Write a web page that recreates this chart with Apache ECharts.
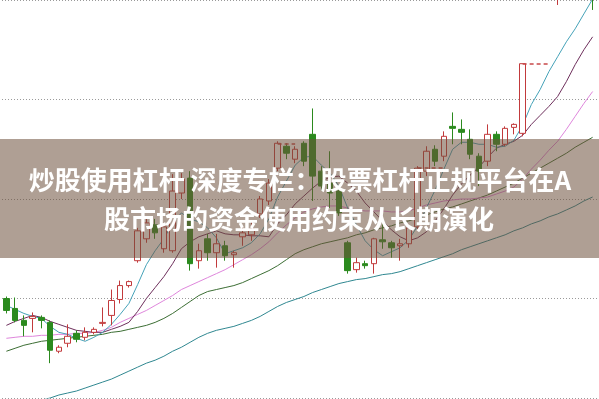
<!DOCTYPE html>
<html>
<head>
<meta charset="utf-8">
<script src="https://cdn.jsdelivr.net/npm/echarts@6/dist/echarts.min.js"></script>
<style>
html, body { margin: 0; padding: 0; background: #fff; }
#kChart { width: 599px; height: 399px; }
</style>
</head>
<body>
<div id="kChart"></div>
<script>
// candles: [open, close, low, high]
var candles = [
	[100, 88, 85, 102], [90, 78, 76, 101], [78, 73, 62, 83], [80, 82, 66, 86], [81, 78, 70, 83],
	[76, 48, 35, 78], [47, 51, 45, 53], [55, 62, 51, 74], [65, 59, 56, 68], [61, 66, 58, 71],
	[66, 69, 64, 71], [75, 76, 72, 91], [83, 98, 73, 109], [99, 113, 95, 118], [113, 117, 111, 118],
	[138, 168, 136, 171], [160, 176, 156, 180], [174, 166, 160, 180], [150, 172, 146, 176], [148, 208, 146, 225],
	[206, 220, 200, 226], [221, 135, 128, 228], [138, 148, 130, 155], [160, 146, 138, 165], [146, 155, 131, 165],
	[153, 143, 138, 158], [144, 146, 131, 148], [162, 166, 153, 173], [164, 170, 158, 178], [185, 200, 181, 203],
	[198, 216, 194, 220], [231, 256, 228, 258], [253, 246, 240, 256], [240, 250, 236, 253], [256, 238, 233, 258],
	[265, 223, 198, 291], [228, 213, 208, 233], [216, 206, 191, 248], [208, 186, 183, 211], [156, 128, 125, 158],
	[129, 136, 126, 141], [135, 133, 130, 138], [135, 160, 125, 161], [159, 157, 150, 175], [156, 151, 141, 158],
	[153, 155, 138, 160], [155, 171, 151, 175], [172, 231, 170, 233], [228, 248, 223, 253], [250, 238, 233, 254],
	[243, 263, 238, 268], [273, 271, 255, 287], [270, 267, 255, 280], [260, 245, 240, 270], [243, 228, 213, 246],
	[238, 265, 233, 275], [265, 255, 248, 268], [255, 271, 253, 273], [272, 275, 265, 276], [266, 336, 263, 336],
	[420, 440, 410, 452], [445, 468, 436, 478], [470, 458, 450, 482], [465, 498, 395, 505], [500, 528, 488, 540],
	[530, 556, 518, 566], [558, 580, 548, 592], [590, 403, 390, 600]
];

var ma5 = [93, 89, 85, 82, 80, 72, 66, 64, 60, 57, 61, 66, 74, 84, 95, 114, 134, 148, 160, 176,
	186, 180, 177, 171, 161, 145, 148, 151, 156, 165, 180, 202, 218, 234, 242, 243, 234, 226, 213, 191,
	174, 158, 149, 143, 147, 151, 159, 173, 191, 209, 230, 250, 257, 257, 255, 255, 252, 253, 259, 274,
	295, 310, 328, 343, 358, 371, 386, 401];

var ma10 = [73, 77, 80, 83, 81, 77, 74, 71, 68, 67, 66, 66, 69, 72, 76, 87, 100, 111, 122, 135,
	150, 157, 162, 165, 168, 165, 164, 164, 163, 163, 162, 175, 184, 195, 203, 211, 218, 222, 223, 216,
	208, 196, 187, 178, 169, 162, 158, 161, 167, 178, 190, 204, 215, 224, 232, 242, 251, 255, 258, 264,
	275, 284, 293, 303, 318, 335, 350, 363];

var ma20 = [60, 61, 62, 62, 63, 63, 64, 64, 65, 65, 66, 68, 71, 76, 80, 84, 88, 93, 98, 103,
	109, 113, 117, 121, 125, 129, 134, 139, 144, 150, 157, 166, 174, 181, 187, 190, 192, 193, 193, 191,
	189, 188, 188, 188, 187, 187, 188, 191, 194, 196, 198, 199, 200, 200, 201, 202, 205, 208, 212, 220,
	230, 239, 249, 258, 270, 283, 296, 308];

var ma60 = [47, 50, 53, 55, 57, 58, 59, 60, 61, 62, 63, 64, 66, 67, 69, 71, 73, 76, 80, 85,
	91, 97, 103, 107, 109, 111, 113, 116, 120, 124, 128, 133, 139, 145, 149, 152, 155, 157, 159, 161,
	164, 166, 169, 171, 173, 176, 178, 181, 184, 187, 190, 192, 195, 198, 201, 204, 208, 212, 216, 221,
	226, 231, 236, 241, 246, 252, 257, 262];

var ma120 = [-14, -10, -7, -4, -2, 0, 3, 5, 7, 10, 13, 16, 19, 23, 27, 31, 35, 38, 42, 47,
	51, 56, 61, 65, 68, 70, 72, 75, 78, 82, 87, 92, 96, 99, 102, 106, 109, 112, 115, 117,
	119, 120, 122, 124, 125, 127, 130, 133, 136, 139, 142, 145, 149, 152, 155, 158, 161, 164, 168, 171,
	175, 178, 182, 185, 189, 193, 198, 202];

// dashed lines from a candle's close over the next few days: [from, to]
var gapLines = [[31, 33], [47, 50], [59, 62]];

var titleLines = ['炒股使用杠杆 深度专栏：股票杠杆正规平台在A', '股市场的资金使用约束从长期演化'];

var days = candles.map(function (c, i) { return 'D' + (i + 1); });

var kChart = echarts.init(document.getElementById('kChart'));

function maSeries(name, data, color) {
	return {
		name: name,
		type: 'line',
		data: data,
		showSymbol: false,
		smooth: false,
		silent: true,
		clip: true,
		lineStyle: { color: color, width: 1 },
		z: 3
	};
}

var option = {
	animation: false,
	backgroundColor: '#ffffff',
	grid: { left: 2, right: 2, top: -2, bottom: 1 },
	xAxis: {
		type: 'category',
		data: days,
		boundaryGap: true,
		axisLine: { show: false },
		axisTick: { show: false },
		axisLabel: { show: false },
		splitLine: { show: false }
	},
	yAxis: {
		type: 'value',
		min: 0,
		max: 400,
		interval: 100,
		axisLine: { show: false },
		axisTick: { show: false },
		axisLabel: { show: false },
		splitLine: {
			show: true,
			lineStyle: { color: '#9a9a9a', width: 1, type: [1, 2] }
		}
	},
	series: [
		maSeries('MA120', ma120, '#2f8790'),
		maSeries('MA60', ma60, '#3c6e34'),
		maSeries('MA20', ma20, '#df86dc'),
		maSeries('MA10', ma10, '#6e2f5c'),
		maSeries('MA5', ma5, '#45a2b8'),
		{
			name: 'K',
			type: 'candlestick',
			data: candles,
			barWidth: 6,
			clip: true,
			z: 4,
			itemStyle: {
				color: '#ffffff',
				color0: '#2b8a1e',
				borderColor: '#c23a3c',
				borderColor0: '#2b8a1e',
				borderWidth: 1
			},
			markLine: {
				silent: true,
				symbol: ['none', 'none'],
				label: { show: false },
				lineStyle: { color: '#c8484a', width: 1.5, type: [4, 3] },
				data: gapLines.map(function (g) {
					var v = candles[g[0]][1];
					return [{ coord: [g[0], v] }, { coord: [g[1], v] }];
				})
			}
		}
	],
	graphic: [
		{
			type: 'rect',
			left: 0,
			top: 139,
			z: 100,
			shape: { width: 599, height: 119 },
			style: { fill: 'rgba(110, 80, 60, 0.55)' }
		},
		{
			type: 'text',
			x: 300,
			y: 180,
			z: 101,
			style: {
				text: titleLines[0],
				fill: '#ffffff',
				font: 'bold 26px "Noto Sans CJK SC"',
				align: 'center',
				verticalAlign: 'middle',
				textAlign: 'center',
				textVerticalAlign: 'middle'
			}
		},
		{
			type: 'text',
			x: 299,
			y: 219,
			z: 101,
			style: {
				text: titleLines[1],
				fill: '#ffffff',
				font: 'bold 26px "Noto Sans CJK SC"',
				align: 'center',
				verticalAlign: 'middle',
				textAlign: 'center',
				textVerticalAlign: 'middle'
			}
		}
	]
};

kChart.setOption(option);
</script>
</body>
</html>
